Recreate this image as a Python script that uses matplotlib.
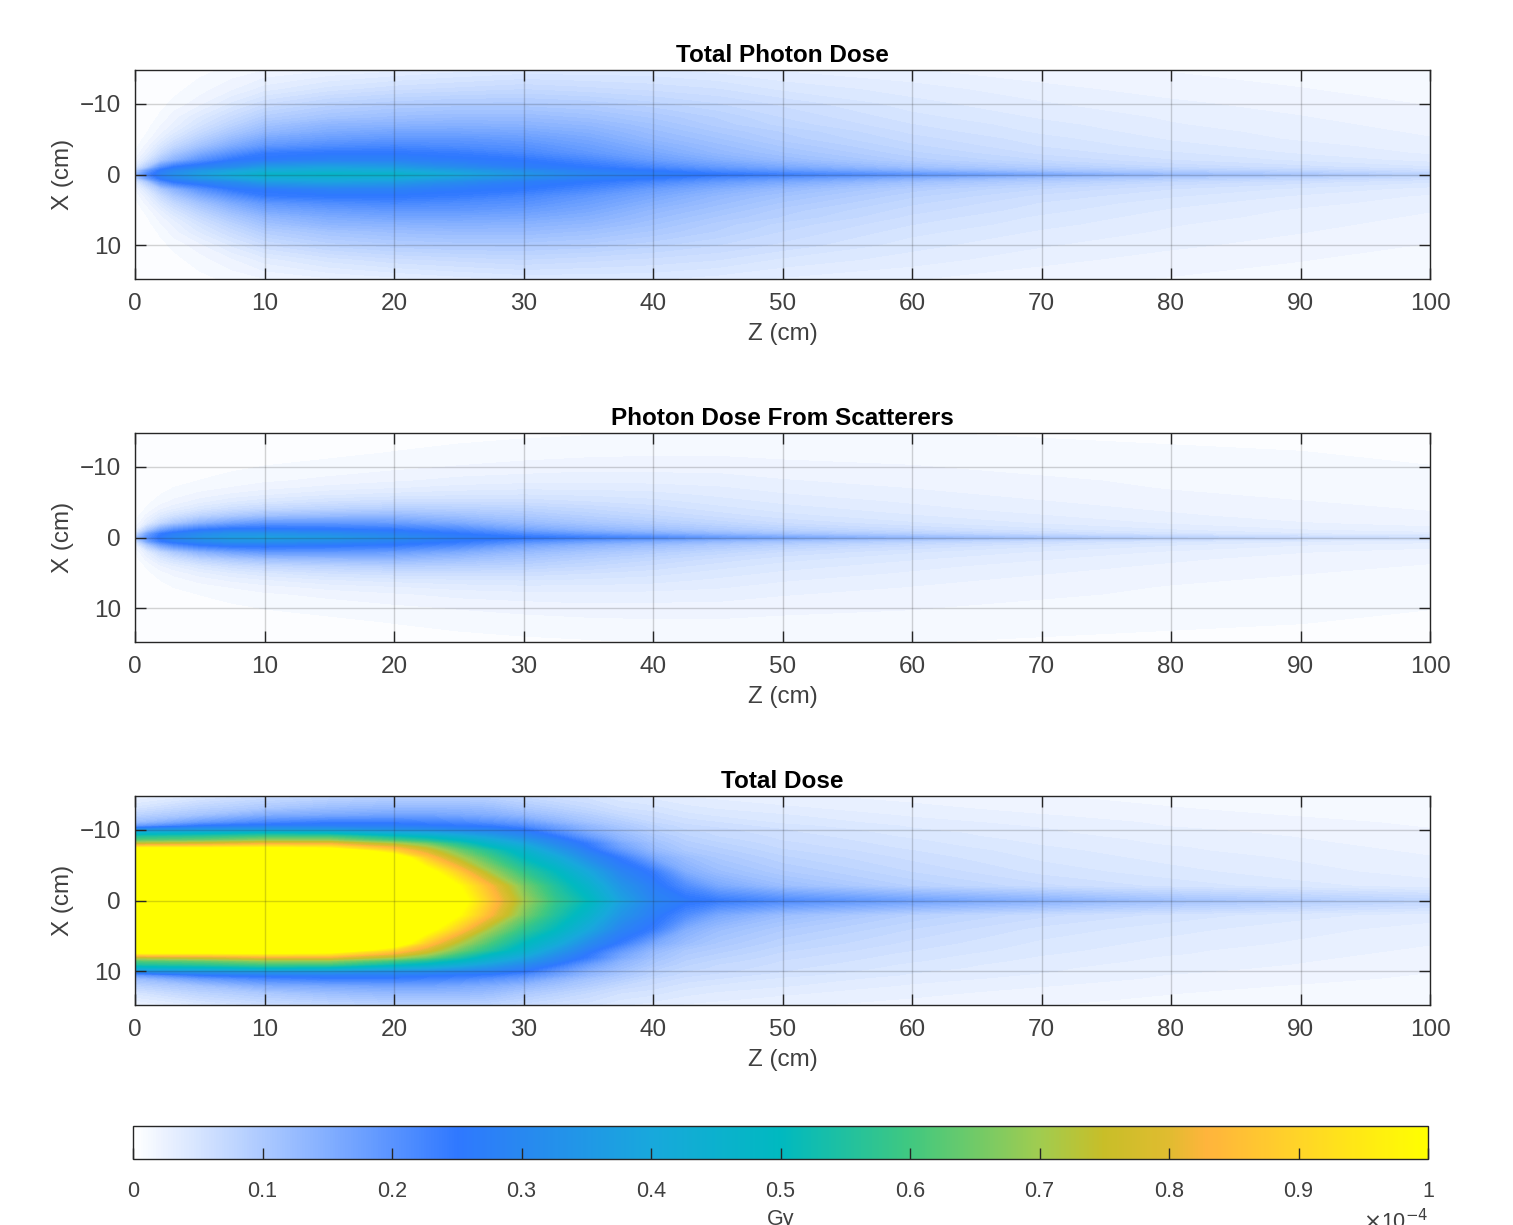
import numpy as np
import matplotlib
matplotlib.use("Agg")
import matplotlib.pyplot as plt
from matplotlib.colors import LinearSegmentedColormap, Normalize
from matplotlib.cm import ScalarMappable

plt.rcParams['font.family'] = ['Liberation Sans', 'DejaVu Sans']

titles = ["Total Photon Dose", "Photon Dose From Scatterers", "Total Dose"]
z_ticks = list(range(0, 101, 10))
x_ticks = [-10, 0, 10]
cbar_ticks = [0, .1, .2, .3, .4, .5, .6, .7, .8, .9, 1]
cbar_labels = ["0", "0.1", "0.2", "0.3", "0.4", "0.5", "0.6", "0.7", "0.8", "0.9", "1"]

z_a = [0, 1, 2, 3, 5, 7.5, 10, 15, 20, 25, 30, 35, 40, 45, 50, 60, 70, 80, 90, 100]
x_a = [0, .5, 1, 2, 3, 4, 5, 6, 7, 8, 10, 12, 14.75]
photon = [
 [.12,.08,.04,.015,.008,.004,.002,.001,0,0,0,0,0],
 [.22,.18,.10,.05,.03,.02,.012,.008,.005,.003,.002,.001,0],
 [.28,.26,.20,.10,.065,.045,.03,.02,.015,.01,.005,.003,.001],
 [.32,.29,.25,.14,.10,.07,.05,.035,.025,.02,.01,.005,.002],
 [.37,.34,.28,.20,.15,.11,.085,.065,.05,.04,.02,.012,.005],
 [.42,.38,.31,.25,.20,.155,.125,.10,.08,.065,.04,.022,.01],
 [.46,.41,.36,.26,.24,.19,.16,.13,.11,.09,.06,.035,.015],
 [.47,.42,.38,.28,.25,.21,.18,.155,.135,.11,.08,.05,.022],
 [.46,.41,.36,.28,.25,.22,.19,.165,.14,.12,.09,.06,.028],
 [.40,.36,.31,.26,.24,.21,.19,.165,.145,.125,.095,.065,.035],
 [.34,.31,.27,.25,.22,.20,.18,.16,.14,.125,.095,.07,.04],
 [.29,.27,.25,.22,.19,.175,.16,.145,.13,.115,.09,.065,.04],
 [.27,.25,.22,.18,.16,.145,.13,.12,.11,.10,.08,.06,.04],
 [.25,.215,.185,.15,.13,.12,.11,.10,.09,.085,.07,.055,.035],
 [.23,.19,.16,.125,.11,.10,.09,.085,.075,.07,.06,.045,.03],
 [.19,.145,.115,.09,.08,.072,.066,.06,.055,.05,.042,.035,.024],
 [.155,.11,.09,.07,.06,.054,.05,.045,.042,.038,.032,.026,.018],
 [.12,.09,.07,.055,.048,.042,.038,.035,.032,.03,.025,.02,.015],
 [.10,.075,.058,.045,.038,.034,.03,.028,.026,.024,.02,.016,.012],
 [.08,.06,.048,.036,.03,.027,.024,.022,.02,.018,.015,.012,.01],
]
scatter = [
 [.10,.05,.02,.006,.003,.001,0,0,0,0,0,0,0],
 [.20,.17,.10,.035,.02,.01,.006,.004,.002,.001,0,0,0],
 [.26,.24,.17,.07,.04,.022,.012,.008,.005,.003,.001,0,0],
 [.29,.27,.21,.10,.055,.03,.018,.012,.008,.005,.002,.001,0],
 [.33,.30,.25,.14,.08,.045,.028,.018,.012,.008,.004,.002,.001],
 [.36,.33,.27,.17,.10,.06,.038,.025,.016,.011,.006,.003,.001],
 [.37,.33,.27,.19,.115,.07,.045,.03,.02,.014,.008,.004,.002],
 [.35,.31,.26,.19,.125,.08,.055,.038,.026,.018,.01,.006,.003],
 [.31,.28,.25,.18,.13,.088,.06,.042,.03,.022,.013,.008,.004],
 [.27,.25,.22,.155,.115,.085,.062,.045,.034,.026,.016,.01,.005],
 [.25,.21,.17,.125,.10,.08,.06,.047,.036,.028,.018,.012,.006],
 [.23,.18,.14,.105,.085,.07,.055,.045,.036,.029,.02,.013,.007],
 [.21,.155,.12,.09,.072,.06,.05,.042,.035,.028,.02,.014,.008],
 [.18,.13,.10,.075,.06,.05,.043,.037,.032,.027,.02,.014,.008],
 [.16,.11,.085,.062,.05,.043,.037,.032,.028,.024,.018,.013,.008],
 [.125,.085,.065,.048,.04,.034,.03,.026,.023,.02,.016,.012,.008],
 [.10,.065,.05,.038,.032,.027,.024,.021,.019,.017,.013,.01,.007],
 [.08,.05,.04,.03,.025,.022,.019,.017,.015,.014,.011,.009,.006],
 [.065,.04,.032,.024,.02,.018,.016,.014,.013,.012,.01,.008,.005],
 [.055,.035,.027,.02,.017,.015,.013,.012,.011,.01,.008,.006,.004],
]
z_t = [0, 5, 10, 15, 20, 22.5, 25, 27.5, 30, 32.5, 35, 37.5, 40, 42.5, 45, 50, 60, 70, 80, 90, 100]
x_t = [0, 2, 4, 6, 7, 7.5, 8, 8.5, 9, 9.5, 10, 10.5, 11, 12, 13, 14.75]
total = [
 [1.2,1.2,1.2,1.2,1.15,.95,.75,.62,.55,.45,.32,.18,.12,.08,.05,.02],
 [1.2,1.2,1.2,1.2,1.15,.95,.78,.64,.57,.47,.34,.25,.18,.11,.08,.04],
 [1.2,1.2,1.2,1.2,1.15,.97,.82,.68,.60,.50,.35,.27,.22,.15,.10,.06],
 [1.2,1.2,1.2,1.2,1.12,.95,.82,.68,.60,.48,.35,.27,.24,.16,.12,.07],
 [1.2,1.2,1.2,1.1,.90,.82,.72,.60,.52,.42,.32,.27,.24,.17,.13,.08],
 [1.2,1.15,1.05,.88,.78,.72,.65,.55,.48,.40,.31,.26,.23,.17,.13,.08],
 [1.05,1.0,.88,.72,.65,.60,.55,.49,.43,.36,.29,.25,.22,.16,.13,.08],
 [.87,.83,.70,.60,.55,.50,.46,.42,.37,.32,.28,.24,.20,.15,.12,.075],
 [.70,.66,.58,.50,.46,.43,.39,.35,.31,.28,.25,.21,.18,.13,.10,.065],
 [.58,.55,.50,.42,.36,.33,.30,.28,.25,.22,.19,.17,.14,.11,.085,.055],
 [.50,.46,.40,.31,.27,.25,.24,.21,.18,.16,.14,.13,.11,.09,.07,.05],
 [.38,.34,.29,.24,.19,.17,.16,.14,.13,.12,.11,.10,.09,.07,.055,.04],
 [.29,.27,.24,.16,.13,.12,.115,.105,.10,.09,.085,.08,.07,.06,.05,.035],
 [.26,.21,.15,.12,.10,.095,.09,.085,.08,.075,.07,.065,.06,.05,.042,.03],
 [.24,.16,.12,.10,.09,.085,.08,.075,.07,.068,.065,.06,.055,.045,.038,.028],
 [.21,.12,.095,.08,.072,.068,.065,.062,.06,.057,.055,.05,.045,.04,.033,.025],
 [.17,.085,.07,.06,.055,.052,.05,.048,.045,.043,.04,.038,.035,.03,.026,.02],
 [.14,.065,.052,.045,.042,.04,.038,.036,.034,.033,.032,.03,.028,.024,.02,.016],
 [.11,.052,.042,.036,.033,.032,.03,.029,.028,.026,.025,.023,.022,.019,.016,.013],
 [.09,.042,.034,.03,.027,.026,.025,.024,.023,.022,.02,.019,.018,.015,.013,.011],
 [.075,.035,.028,.024,.022,.021,.02,.019,.018,.017,.016,.015,.014,.012,.01,.009],
]

cmap = LinearSegmentedColormap.from_list("dose", [
    (0, "#FFFFFF"), (.25, "#2F78FF"), (.3, "#2888F0"), (.4, "#18A8DC"), (.5, "#00B9C0"),
    (.6, "#40C880"), (.7, "#A0CC50"), (.75, "#C8BE28"), (.8, "#E0BC30"), (.83, "#FFB43C"),
    (.9, "#FFD428"), (1, "#FFFF00")], N=512)
cmap.set_over("#FFFF00")
norm = Normalize(0, 1)
levels = np.linspace(0, 1, 129)
W, H = 1513, 1225
INK = "#404040"
FS = 17.5


def mirror(vals):
    v = np.asarray(vals, float)
    return np.hstack([v[:, :0:-1], v])


def axes_px(l, t, r, b):
    return fig.add_axes([l / W, 1 - b / H, (r - l) / W, (b - t) / H])


fig = plt.figure(figsize=(W / 100, H / 100), dpi=100)
panels = [(70, 279, z_a, x_a, photon), (433, 642, z_a, x_a, scatter), (796, 1005, z_t, x_t, total)]
for (t, b, zs, xs, vals), title in zip(panels, titles):
    ax = axes_px(135, t, 1430, b)
    xs = np.asarray(xs, float)
    xfull = np.hstack([-xs[:0:-1], xs])
    ax.contourf(zs, xfull, mirror(vals).T, levels=levels, cmap=cmap, norm=norm, extend="max")
    ax.set_xlim(0, 100)
    ax.set_ylim(14.75, -14.75)
    ax.set_xticks(z_ticks)
    ax.set_yticks(x_ticks)
    ax.grid(True, color="#262626", alpha=0.2, lw=1)
    ax.set_axisbelow(False)
    ax.tick_params(direction="in", top=True, right=True, length=8, width=1, color="#262626",
                   labelcolor=INK, labelsize=FS, pad=10)
    for s in ax.spines.values():
        s.set_color("#262626")
        s.set_linewidth(1)
    ax.set_xlabel("Z (cm)", fontsize=FS, color=INK, labelpad=6)
    ax.set_ylabel("X (cm)", fontsize=FS, color=INK, labelpad=4)
    ax.set_title(title, fontsize=FS, fontweight="bold", color="black", pad=6)

cax = axes_px(133, 1126, 1428, 1159)
cb = fig.colorbar(ScalarMappable(norm=norm, cmap=cmap), cax=cax, orientation="horizontal", ticks=cbar_ticks)
cb.ax.set_xticklabels(cbar_labels)
cb.ax.tick_params(direction="in", length=8, width=1, color="#262626", labelcolor=INK, labelsize=15.5, pad=16)
cb.outline.set_edgecolor("#262626")
cb.outline.set_linewidth(1)
fig.text(781 / W, 1 - 1219 / H, "Gy", fontsize=15.5, color=INK, ha="center", va="center")
fig.text(1428 / W, 1 - 1222 / H, r"$\times$10$^{-4}$", fontsize=15.5, color=INK, ha="right", va="center")

fig.savefig("out.png", dpi=100)
